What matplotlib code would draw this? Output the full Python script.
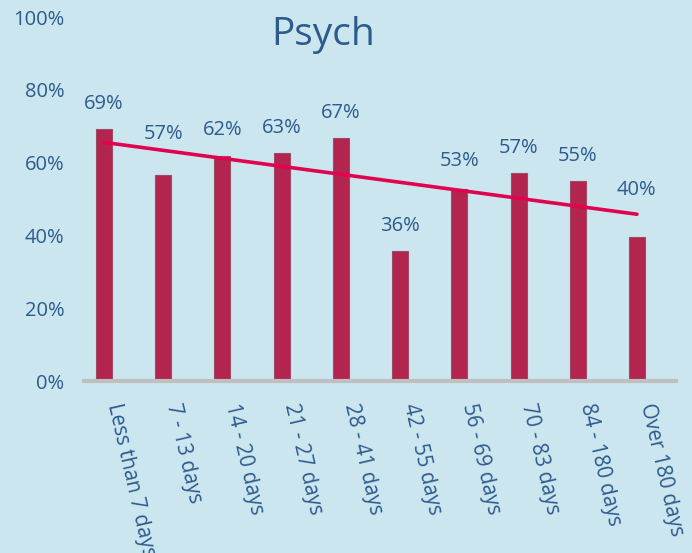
import matplotlib
matplotlib.use("Agg")
import matplotlib.pyplot as plt
import matplotlib.transforms as mtrans
import numpy as np

categories = ["Less than 7 days", "7 - 13 days", "14 - 20 days", "21 - 27 days",
              "28 - 41 days", "42 - 55 days", "56 - 69 days", "70 - 83 days",
              "84 - 180 days", "Over 180 days"]
values = [69.2, 56.6, 61.8, 62.6, 66.8, 35.7, 52.7, 57.2, 54.9, 39.6]
yticks = [0, 20, 40, 60, 80, 100]
title = "Psych"

# label offsets above bar tops (pixels) - style only
label_offset_px = [25, 41, 26, 25, 25, 25, 28, 25, 25, 47]

plt.rcParams['font.family'] = ['Open Sans', 'DejaVu Sans']
bg = '#cce6f0'
txt = '#2c5b8c'

fig = plt.figure(figsize=(6.92, 5.53), dpi=100, facecolor=bg)
ax = fig.add_axes([0.1214, 0.311, 0.8555, 0.658], facecolor=bg)

x = np.arange(len(categories))
ax.bar(x, values, width=0.27, color='#b3244f', edgecolor='#9c4b66', linewidth=0.8, zorder=2)

for xi, v, off in zip(x, values, label_offset_px):
    ax.annotate(f"{round(v):d}%", (xi, v), xytext=(0, off * 0.72), textcoords='offset points',
                ha='center', va='center', fontsize=14.5, color=txt, zorder=4)

coef = np.polyfit(x, values, 1)
ax.plot([x[0], x[-1]], np.polyval(coef, [x[0], x[-1]]), color='#e0034f', lw=2.6, zorder=3,
        solid_capstyle='round')

ax.set_xlim(-0.338, len(categories) - 1 + 0.66)
ax.set_ylim(0, 100)
ax.set_yticks(yticks)
ax.set_yticklabels([f"{t}%" for t in yticks], fontsize=14.5, color=txt)
ax.set_xticks(x)
ax.set_xticklabels(categories, rotation=-77, ha='left', va='center', rotation_mode='anchor',
                   fontsize=14.8, color=txt)
ax.tick_params(axis='y', length=0, pad=14)
ax.tick_params(axis='x', length=0, pad=16)
shift = mtrans.ScaledTranslation(9 / 100, 0, fig.dpi_scale_trans)
for lbl in ax.get_xticklabels():
    lbl.set_transform(lbl.get_transform() + shift)
for s in ['top', 'right', 'left']:
    ax.spines[s].set_visible(False)
ax.spines['bottom'].set_color('#bfbfbf')
ax.spines['bottom'].set_linewidth(3)
ax.spines['bottom'].set_zorder(5)

fig.text(0.467, 0.937, title, ha='center', va='center', fontsize=28, color=txt)

fig.savefig('out.png', dpi=100, facecolor=bg)
